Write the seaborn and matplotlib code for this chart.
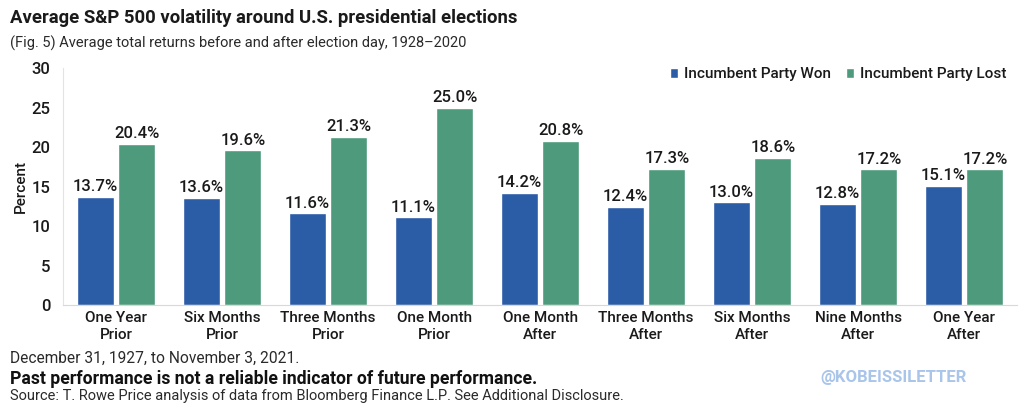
import matplotlib
matplotlib.use("Agg")
import matplotlib.pyplot as plt
import seaborn as sns
import pandas as pd

categories = ["One Year\nPrior", "Six Months\nPrior", "Three Months\nPrior", "One Month\nPrior",
              "One Month\nAfter", "Three Months\nAfter", "Six Months\nAfter", "Nine Months\nAfter",
              "One Year\nAfter"]
won = [13.7, 13.6, 11.6, 11.1, 14.2, 12.4, 13.0, 12.8, 15.1]
lost = [20.4, 19.6, 21.3, 25.0, 20.8, 17.3, 18.6, 17.2, 17.2]
series_names = ["Incumbent Party Won", "Incumbent Party Lost"]
colors = ["#2b5ca6", "#4e9a7c"]

df = pd.DataFrame({
    "cat": categories * 2,
    "val": won + lost,
    "series": [series_names[0]] * len(won) + [series_names[1]] * len(lost),
})

sns.set_theme(style="white")
plt.rcParams["font.family"] = ["Roboto", "DejaVu Sans"]

fig = plt.figure(figsize=(10.24, 4.04), dpi=100)
ax = fig.add_axes([63.2 / 1024, 99 / 404, 954 / 1024, 236.7 / 404])

sns.barplot(data=df, x="cat", y="val", hue="series", palette=colors, ax=ax,
            width=0.78, gap=0.1, saturation=1, legend=True)

for cont in ax.containers:
    ax.bar_label(cont, labels=[f"{v:.1f}%" for v in cont.datavalues], padding=2,
                 fontsize=12, fontweight="medium", color="#1a1a1a")

ax.set_ylim(0, 30)
ax.set_yticks([0, 5, 10, 15, 20, 25, 30])
ax.set_xlim(-0.5, len(categories) - 0.5)
ax.set_xlabel("")
ax.set_ylabel("Percent", fontsize=11, fontweight="medium", color="#1a1a1a", labelpad=3)
ax.tick_params(axis="y", direction="in", length=18, width=0.8, color="#e3e3e3",
               labelsize=12, labelcolor="#1a1a1a", pad=9)
for lbl in ax.get_yticklabels():
    lbl.set_fontweight("medium")
ax.tick_params(axis="x", length=0, labelsize=11, labelcolor="#1a1a1a", pad=4)
for lbl in ax.get_xticklabels():
    lbl.set_linespacing(1.3)
    lbl.set_fontweight("medium")
for s in ["top", "right"]:
    ax.spines[s].set_visible(False)
ax.spines["left"].set_color("#e3e3e3")
ax.spines["bottom"].set_color("#d8d8d8")
ax.spines["left"].set_linewidth(0.8)
ax.spines["bottom"].set_linewidth(0.8)

leg = ax.legend(loc="upper right", bbox_to_anchor=(0.995, 1.03), ncol=2, frameon=False,
                prop={"size": 11, "weight": "medium"}, handlelength=0.55, handleheight=0.55,
                handletextpad=0.35, columnspacing=1.0, borderaxespad=0.0)
for t in leg.get_texts():
    t.set_color("#1a1a1a")

fig.text(0.0098, 0.955, "Average S&P 500 volatility around U.S. presidential elections",
         fontsize=13.3, fontweight="bold", color="#1a1a1a", va="center")
fig.text(0.0098, 0.892, "(Fig. 5) Average total returns before and after election day, 1928\u20132020",
         fontsize=10.5, color="#2a2a2a", va="center")

fig.text(0.0098, 0.112, "December 31, 1927, to November 3, 2021.", fontsize=11.2,
         color="#2a2a2a", va="center")
fig.text(0.0098, 0.062, "Past performance is not a reliable indicator of future performance.",
         fontsize=12.7, fontweight="bold", color="#111111", va="center")
fig.text(0.0098, 0.019, "Source: T. Rowe Price analysis of data from Bloomberg Finance L.P. See Additional Disclosure.",
         fontsize=10.5, color="#2a2a2a", va="center")
fig.text(0.801, 0.065, "@KOBEISSILETTER", fontsize=12, fontweight="bold",
         color="#a9c5ea", va="center")

fig.savefig("out.png", dpi=100, facecolor="white")
